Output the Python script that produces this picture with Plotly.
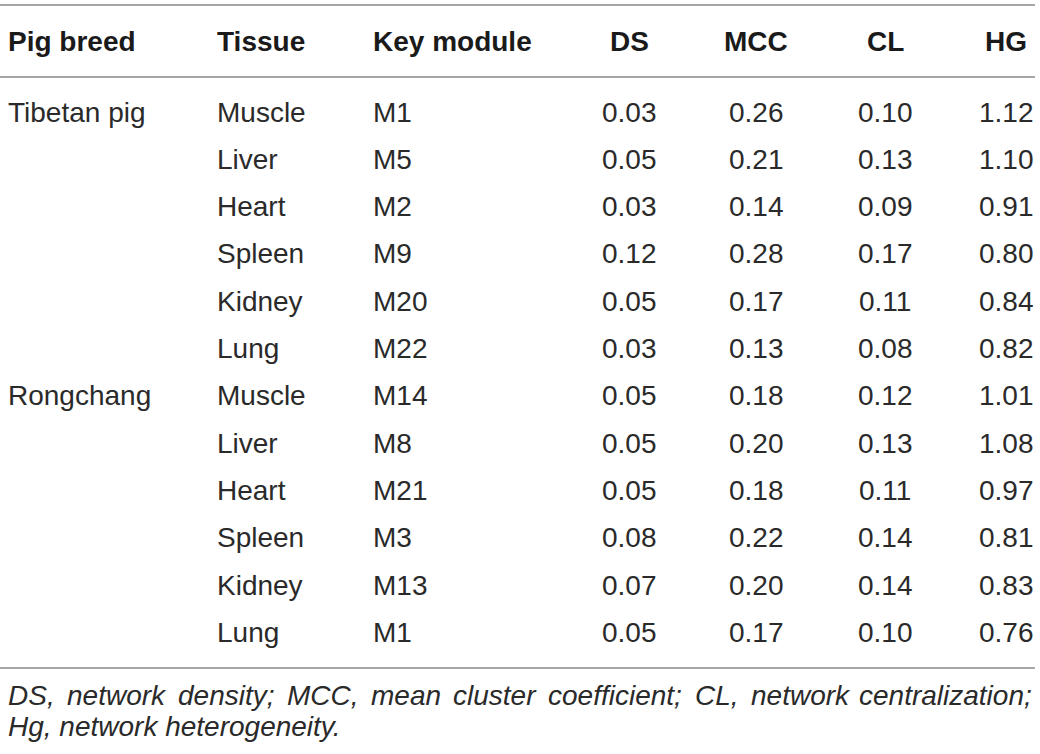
import plotly.graph_objects as go

headers = ["Pig breed", "Tissue", "Key module", "DS", "MCC", "CL", "HG"]
breeds = ["Tibetan pig", "", "", "", "", "", "Rongchang", "", "", "", "", ""]
tissues = ["Muscle", "Liver", "Heart", "Spleen", "Kidney", "Lung",
           "Muscle", "Liver", "Heart", "Spleen", "Kidney", "Lung"]
modules = ["M1", "M5", "M2", "M9", "M20", "M22",
           "M14", "M8", "M21", "M3", "M13", "M1"]
ds = ["0.03", "0.05", "0.03", "0.12", "0.05", "0.03",
      "0.05", "0.05", "0.05", "0.08", "0.07", "0.05"]
mcc = ["0.26", "0.21", "0.14", "0.28", "0.17", "0.13",
       "0.18", "0.20", "0.18", "0.22", "0.20", "0.17"]
cl = ["0.10", "0.13", "0.09", "0.17", "0.11", "0.08",
      "0.12", "0.13", "0.11", "0.14", "0.14", "0.10"]
hg = ["1.12", "1.10", "0.91", "0.80", "0.84", "0.82",
      "1.01", "1.08", "0.97", "0.81", "0.83", "0.76"]
footnote_1 = ["DS,", "network", "density;", "MCC,", "mean", "cluster",
              "coefficient;", "CL,", "network", "centralization;"]
footnote_2 = "Hg, network heterogeneity."

W, H = 1040, 754
FONT = "Liberation Sans, Arial, sans-serif"
INK = "#2a2a2a"
RULE = "#a6a6a6"

# column anchors: (x, xanchor)
cols = [(7, "left"), (216, "left"), (372, "left"),
        (629, "center"), (756, "center"), (885, "center"), (1006, "center")]
header_y = 41
row_y0, row_step = 112, 47.3
# word starts for the justified first footnote line (last one is right edge)
word_x = [7, 66, 177, 286, 370, 452, 547, 694, 750, 1033]

fig = go.Figure()
ann = []

for (x, xa), h in zip(cols, headers):
    ann.append(dict(x=x, y=header_y, text="<b>%s</b>" % h, xanchor=xa,
                    yanchor="middle", font=dict(size=28, color="#1a1a1a")))

columns = [breeds, tissues, modules, ds, mcc, cl, hg]
for i in range(len(tissues)):
    y = row_y0 + i * row_step
    for (x, xa), col in zip(cols, columns):
        if col[i]:
            ann.append(dict(x=x, y=y, text=col[i], xanchor=xa,
                            yanchor="middle", font=dict(size=28, color=INK)))

for k, w in enumerate(footnote_1):
    ann.append(dict(x=word_x[k], y=695, text="<i>%s</i>" % w,
                    xanchor="right" if k == len(footnote_1) - 1 else "left",
                    yanchor="middle", font=dict(size=28, color=INK)))
ann.append(dict(x=7, y=726, text="<i>%s</i>" % footnote_2, xanchor="left",
                yanchor="middle", font=dict(size=28, color=INK)))

for k in range(len(ann)):
    ann[k].update(xref="x", yref="y", showarrow=False, borderpad=0)

for y in [5, 77, 668]:
    fig.add_shape(type="line", x0=0, x1=1035, y0=y, y1=y, xref="x", yref="y",
                  line=dict(color=RULE, width=2))

fig.update_layout(
    width=W, height=H,
    margin=dict(l=0, r=0, t=0, b=0),
    paper_bgcolor="white", plot_bgcolor="white",
    font=dict(family=FONT, color=INK),
    annotations=ann,
    xaxis=dict(range=[0, W], visible=False, fixedrange=True),
    yaxis=dict(range=[H, 0], visible=False, fixedrange=True),
    showlegend=False,
)

fig.write_html("out.html", config={"displayModeBar": False},
               post_script="document.body.style.margin='0';")
